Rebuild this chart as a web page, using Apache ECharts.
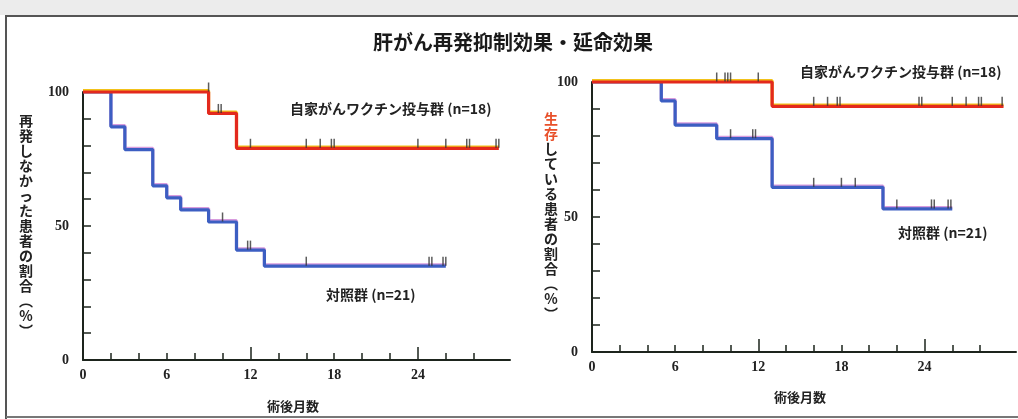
<!DOCTYPE html>
<html><head><meta charset="utf-8">
<script src="https://cdn.jsdelivr.net/npm/echarts@6/dist/echarts.min.js"></script>
<style>html,body{margin:0;padding:0;background:#fff}#c{width:1018px;height:419px}</style>
</head><body><div id="c"></div>
<script>
// ---- text ----
const titleText = '肝がん再発抑制効果・延命効果';
const xTitle = '術後月数';
const leftYTitle = ['再','発','し','な','か','っ','た','患','者','の','割','合','︵','%','︶'];
const rightYTitleRed = ['生','存'];
const rightYTitleRest = ['し','て','い','る','患','者','の','割','合','︵','%','︶'];
const vaccineLabel = '自家がんワクチン投与群 (n=18)';
const controlLabel = '対照群 (n=21)';

// ---- tick labels ----
const xLabelValues = [0, 6, 12, 18, 24];
const xTickValues = [2, 4, 6, 8, 10, 12, 14, 16, 18, 20, 22, 24, 26, 28];
const xMajorTickValues = [12, 24];
const yLabelValues = [0, 50, 100];

// ---- left: recurrence-free (%) ----
const relapseVaccineT = [0, 9, 11, 29.8];
const relapseVaccineS = [100, 92, 79, 79];
const relapseVaccineCensor = [9, 9.7, 9.9, 12, 16, 17, 17.8, 18, 24, 26, 27.5, 27.7, 29.6, 29.8];
const relapseControlT = [0, 2, 3, 5, 6, 7, 9, 11, 13, 26];
const relapseControlS = [100, 87, 78.5, 65, 60.5, 56, 51.5, 41, 35, 35];
const relapseControlCensor = [10, 11.8, 12, 16, 24.8, 25, 25.8, 26];

// ---- right: survival (%) ----
const survivalVaccineT = [0, 13, 29.7];
const survivalVaccineS = [100, 91, 91];
const survivalVaccineCensor = [9, 9.6, 9.8, 10, 12, 16, 17, 17.7, 17.9, 23.6, 23.8, 26, 27, 27.9, 28.1, 29.6];
const survivalControlT = [0, 5, 6, 9, 13, 21, 26];
const survivalControlS = [100, 93, 84, 79, 61, 53, 53];
const survivalControlCensor = [10, 11.6, 11.8, 16, 18, 19, 22, 24.5, 24.7, 25.7, 25.9];

const RED = '#e3291d', BLUE = '#3c5ec2', AXIS = '#1d241d', TICKC = '#333';

function stepData(T, S) { return T.map((t, i) => [t, S[i]]); }
function levelAt(T, S, t) {
  let v = S[0];
  for (let i = 0; i < T.length; i++) if (T[i] < t) v = S[i];
  return v;
}
function censorData(T, S, C) { return C.map(t => [t, levelAt(T, S, t)]); }

const grids = [
  { left: 83, top: 92, width: 427, height: 268 },
  { left: 592, top: 82, width: 424, height: 270 }
];
const XMAX = 30.6;

const xAxes = [], yAxes = [];
grids.forEach((g, gi) => {
  xAxes.push({
    gridIndex: gi, type: 'value', min: 0, max: XMAX, interval: 2,
    splitLine: { show: false },
    axisLine: { lineStyle: { color: AXIS, width: 2 } },
    axisTick: { inside: true, length: 7, customValues: xTickValues, lineStyle: { color: AXIS, width: 1.5 } },
    axisLabel: { customValues: xLabelValues, margin: 8, color: '#222',
      fontFamily: 'Liberation Serif', fontWeight: 'bold', fontSize: 14 }
  });
  xAxes.push({
    gridIndex: gi, type: 'value', min: 0, max: XMAX, position: 'bottom',
    splitLine: { show: false }, axisLine: { show: false },
    axisTick: { inside: true, length: 13, customValues: xMajorTickValues, lineStyle: { color: AXIS, width: 1.5 } },
    axisLabel: { show: false }
  });
  yAxes.push({
    gridIndex: gi, type: 'value', min: 0, max: 100, interval: 10,
    splitLine: { show: false },
    axisLine: { show: true, lineStyle: { color: AXIS, width: 2 } },
    axisTick: { show: true, inside: true, length: 8, lineStyle: { color: AXIS, width: 1.5 } },
    axisLabel: { customValues: yLabelValues, margin: 14, color: '#222',
      fontFamily: 'Liberation Serif', fontWeight: 'bold', fontSize: 14 }
  });
});

function lineSeries(gi, T, S, color, edge, z) {
  return { type: 'line', xAxisIndex: gi * 2, yAxisIndex: gi, step: 'end',
    data: stepData(T, S), symbol: 'none', clip: false, z: z,
    lineStyle: { color: color, width: 3.2, shadowColor: edge, shadowOffsetY: -1.3, shadowBlur: 0 } };
}
function censorSeries(gi, T, S, C, z) {
  return { type: 'scatter', xAxisIndex: gi * 2, yAxisIndex: gi, clip: false, z: z,
    data: censorData(T, S, C), symbol: 'rect', symbolSize: [1.5, 9], symbolOffset: [0, -5],
    itemStyle: { color: TICKC } };
}

const series = [
  lineSeries(0, relapseControlT, relapseControlS, BLUE, 'rgba(190,90,200,0.6)', 2),
  lineSeries(0, relapseVaccineT, relapseVaccineS, RED, '#f2c21a', 3),
  censorSeries(0, relapseControlT, relapseControlS, relapseControlCensor, 4),
  censorSeries(0, relapseVaccineT, relapseVaccineS, relapseVaccineCensor, 4),
  lineSeries(1, survivalControlT, survivalControlS, BLUE, 'rgba(190,90,200,0.6)', 2),
  lineSeries(1, survivalVaccineT, survivalVaccineS, RED, '#f2c21a', 3),
  censorSeries(1, survivalControlT, survivalControlS, survivalControlCensor, 4),
  censorSeries(1, survivalVaccineT, survivalVaccineS, survivalVaccineCensor, 4)
];

const CJK = '"Noto Sans CJK JP", sans-serif';
function txt(x, y, text, opts) {
  return Object.assign({ type: 'text', x: x, y: y,
    style: Object.assign({ text: text, font: 'bold 13px ' + CJK, fill: '#222',
      textAlign: 'left', textVerticalAlign: 'middle' }, opts || {}) });
}

const graphic = [
  { type: 'rect', shape: { x: 0, y: 0, width: 1018, height: 15 }, style: { fill: '#ececec' }, z: 0 },
  { type: 'line', shape: { x1: 5, y1: 16, x2: 1018, y2: 16 }, style: { stroke: '#555', lineWidth: 2 } },
  { type: 'line', shape: { x1: 6, y1: 16, x2: 6, y2: 419 }, style: { stroke: '#555', lineWidth: 2 } },
  { type: 'line', shape: { x1: 6, y1: 417, x2: 1018, y2: 417 }, style: { stroke: '#777', lineWidth: 2 } },
  txt(513, 42, titleText, { font: 'bold 20px ' + CJK, textAlign: 'center', fill: '#1a1a1a' }),
  txt(290, 109, vaccineLabel, { font: 'bold 14px ' + CJK }),
  txt(326, 295, controlLabel, { font: 'bold 14px ' + CJK }),
  txt(800, 72, vaccineLabel, { font: 'bold 14px ' + CJK }),
  txt(898, 233, controlLabel, { font: 'bold 14px ' + CJK }),
  txt(293, 406, xTitle, { font: 'bold 13px ' + CJK, textAlign: 'center' }),
  txt(800, 397, xTitle, { font: 'bold 13px ' + CJK, textAlign: 'center' }),
  { type: 'text', x: 26, y: 113, style: { text: leftYTitle.join('\n'), font: 'bold 14px ' + CJK,
      lineHeight: 15, fill: '#222', textAlign: 'center', textVerticalAlign: 'top' } },
  { type: 'text', x: 551, y: 111, style: {
      text: rightYTitleRed.map(c => '{r|' + c + '}').join('\n') + '\n' + rightYTitleRest.map(c => '{k|' + c + '}').join('\n'),
      textAlign: 'center', textVerticalAlign: 'top',
      rich: {
        r: { font: 'bold 14px ' + CJK, fill: '#e8502a', lineHeight: 15 },
        k: { font: 'bold 14px ' + CJK, fill: '#222', lineHeight: 15 }
      } } }
];

const chart = echarts.init(document.getElementById('c'), null, { renderer: 'canvas' });
chart.setOption({
  animation: false,
  backgroundColor: '#fff',
  grid: grids,
  xAxis: xAxes,
  yAxis: yAxes,
  series: series,
  graphic: graphic
});
</script></body></html>
